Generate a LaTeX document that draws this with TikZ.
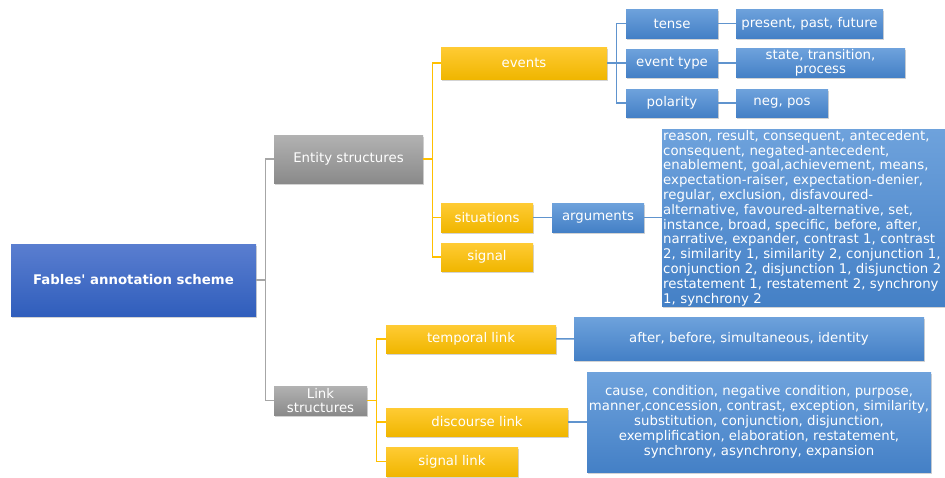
\documentclass[tikz,border=0pt]{standalone}
\usepackage{fontspec}
\setmainfont{DejaVu Sans}
\usetikzlibrary{shadows}

\definecolor{roottop}{RGB}{90,126,208}
\definecolor{rootbottom}{RGB}{48,94,188}
\definecolor{greytop}{RGB}{178,178,178}
\definecolor{greybottom}{RGB}{138,138,138}
\definecolor{goldtop}{RGB}{255,203,52}
\definecolor{goldbottom}{RGB}{240,182,0}
\definecolor{bluetop}{RGB}{110,162,220}
\definecolor{bluebottom}{RGB}{68,128,198}
\definecolor{greyconn}{RGB}{166,166,166}
\definecolor{goldconn}{RGB}{255,192,0}
\definecolor{blueconn}{RGB}{96,148,206}

\begin{document}
\begin{tikzpicture}[
    x=1pt, y=-1pt,
    box/.style={rectangle, text=white, inner sep=1pt, align=center,
        font=\fontsize{13.3}{14.4}\selectfont,
        drop shadow={shadow xshift=1.2pt, shadow yshift=-1.6pt, opacity=0.35}},
    rootbox/.style={box, top color=roottop, bottom color=rootbottom,
        font=\fontsize{13.3}{14.4}\selectfont\bfseries},
    greybox/.style={box, top color=greytop, bottom color=greybottom},
    goldbox/.style={box, top color=goldtop, bottom color=goldbottom},
    bluebox/.style={box, top color=bluetop, bottom color=bluebottom},
    greyline/.style={draw=greyconn, line width=1.4pt},
    goldline/.style={draw=goldconn, line width=1.4pt},
    blueline/.style={draw=blueconn, line width=1.4pt}
]
\useasboundingbox (0,0) rectangle (945,477);
\node[rootbox, minimum width=245pt, minimum height=72pt] (root) at (133.5,280) {Fables\textquotesingle{} annotation scheme};
\node[greybox, minimum width=149pt, minimum height=48pt] (entity) at (348.5,159) {Entity structures};
\node[greybox, minimum width=93pt, minimum height=29pt] (link) at (320.5,400.5) {Link\\structures};
\node[goldbox, minimum width=166pt, minimum height=32pt] (events) at (524,63) {events};
\node[goldbox, minimum width=92pt, minimum height=29pt] (situations) at (487,217.5) {situations};
\node[goldbox, minimum width=92pt, minimum height=28pt] (signal) at (487,257) {signal};
\node[bluebox, minimum width=92pt, minimum height=29pt] (arguments) at (598,217.5) {arguments};
\node[bluebox, minimum width=92pt, minimum height=29pt] (tense) at (672,23.5) {tense};
\node[bluebox, minimum width=92pt, minimum height=28pt] (eventtype) at (672,63) {event type};
\node[bluebox, minimum width=92pt, minimum height=28pt] (polarity) at (672,103) {polarity};
\node[bluebox, minimum width=147pt, minimum height=29pt] (tensevals) at (809.5,23.5) {present, past, future};
\node[bluebox, minimum width=169pt, minimum height=28pt] (typevals) at (820.5,63) {state, transition,\\process};
\node[bluebox, minimum width=92pt, minimum height=28pt] (polvals) at (782,103) {neg, pos};
\node[bluebox, anchor=north west, text width=284pt, align=left, minimum height=177pt,
    font=\fontsize{13.3}{14.8}\selectfont] (argvals) at (662,129) {reason, result, consequent, antecedent,\\
consequent, negated-antecedent,\\
enablement, goal,achievement, means,\\
expectation-raiser, expectation-denier,\\
regular, exclusion, disfavoured-\\
alternative, favoured-alternative, set,\\
instance, broad, specific, before, after,\\
narrative, expander, contrast 1, contrast\\
2, similarity 1, similarity 2, conjunction 1,\\
conjunction 2, disjunction 1, disjunction 2\\
restatement 1, restatement 2, synchrony\\
1, synchrony 2};
\node[goldbox, minimum width=170pt, minimum height=28pt] (temporal) at (471,339) {temporal link};
\node[goldbox, minimum width=182pt, minimum height=28pt] (discourse) at (477,422) {discourse link};
\node[goldbox, minimum width=132pt, minimum height=29pt] (signallink) at (452,461.5) {signal link};
\node[bluebox, minimum width=350pt, minimum height=43pt] (tempvals) at (749,338.5) {after, before, simultaneous, identity};
\node[bluebox, minimum width=344pt, minimum height=100pt, font=\fontsize{13.3}{15}\selectfont] (discvals) at (759,422) {cause, condition, negative condition, purpose,\\
manner,concession, contrast, exception, similarity,\\
substitution, conjunction, disjunction,\\
exemplification, elaboration, restatement,\\
synchrony, asynchrony, expansion};
\draw[greyline] (root.east) -- ++(9,0) coordinate (rootbus);
\draw[greyline] (rootbus) |- (entity.west);
\draw[greyline] (rootbus) |- (link.west);
\draw[goldline] (entity.east) -- ++(9,0) coordinate (entitybus);
\foreach \child in {events, situations, signal}
    \draw[goldline] (entitybus) |- (\child.west);
\draw[goldline] (link.east) -- ++(9,0) coordinate (linkbus);
\foreach \child in {temporal, discourse, signallink}
    \draw[goldline] (linkbus) |- (\child.west);
\draw[blueline] (events.east) -- ++(9,0) coordinate (eventsbus);
\foreach \child in {tense, eventtype, polarity}
    \draw[blueline] (eventsbus) |- (\child.west);
\draw[blueline] (tense) -- (tensevals);
\draw[blueline] (eventtype) -- (typevals);
\draw[blueline] (polarity) -- (polvals);
\draw[blueline] (situations) -- (arguments);
\draw[blueline] (arguments.east) -- (arguments.east -| argvals.west);
\draw[blueline] (temporal) -- (tempvals);
\draw[blueline] (discourse) -- (discvals);
\end{tikzpicture}
\end{document}
